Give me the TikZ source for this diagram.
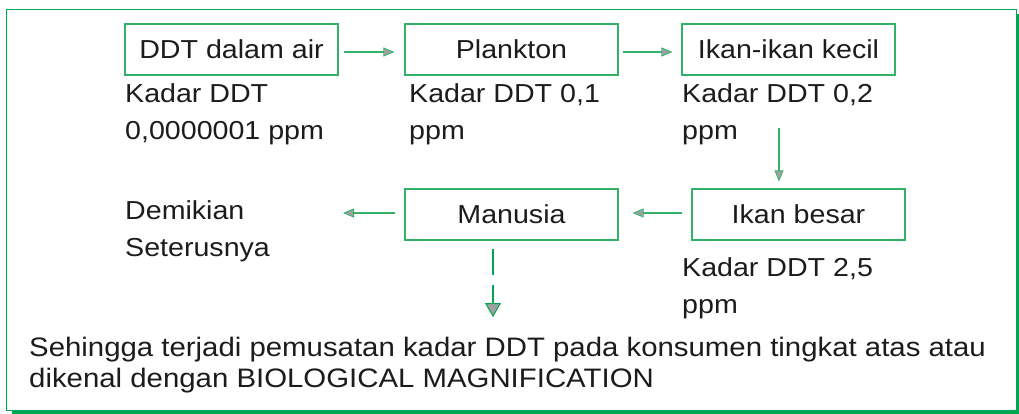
\documentclass[tikz,border=0pt]{standalone}
\usepackage{fontspec}
\setmainfont{Liberation Sans}[FakeStretch=1.1]
\usetikzlibrary{arrows.meta}
\definecolor{frameg}{RGB}{0,166,81}
\definecolor{boxg}{RGB}{50,178,105}
\definecolor{headg}{RGB}{160,160,160}
\definecolor{txt}{RGB}{30,27,28}
\begin{document}
\begin{tikzpicture}[x=1pt,y=-1pt,
  stepbox/.style={draw=boxg, line width=1.2pt, minimum width=213pt, minimum height=51pt,
    inner sep=0pt, font=\fontsize{26}{30}\selectfont, text=txt},
  lbl/.style={anchor=north west, inner sep=0pt, align=left,
    font=\fontsize{26}{37}\selectfont, text=txt},
  arr/.style={draw=boxg, line width=1.2pt,
    -{Triangle[length=11pt,width=9pt,fill=headg,line width=0.8pt]}},
  darr/.style={draw=frameg, line width=2.2pt, dash pattern=on 26pt off 10pt,
    -{Triangle[length=14pt,width=16pt,fill=headg,line width=1pt]}}]
\useasboundingbox (0,0) rectangle (1019,414);
% frame
\draw[frameg, line width=2.6pt] (1018,14) -- (1018,412.5) -- (12,412.5);
\draw[frameg, line width=0.9pt, fill=white] (6,9) rectangle (1016,410);
% boxes
\node[stepbox] (b1) at (231.5,49.5) {DDT dalam air};
\node[stepbox] (b2) at (511.5,49.5) {Plankton};
\node[stepbox] (b3) at (788.5,49.5) {Ikan-ikan kecil};
\node[stepbox] (b4) at (798.5,214.5) {Ikan besar};
\node[stepbox] (b5) at (511.5,214.5) {Manusia};
% labels
\node[lbl] (t1) at (125,76.1) {\strut Kadar DDT\\0,0000001 ppm};
\node[lbl] (t2) at (409,76.1) {\strut Kadar DDT 0,1\\ppm};
\node[lbl] (t3) at (682,76.1) {\strut Kadar DDT 0,2\\ppm};
\node[lbl] (t4) at (682,250.1) {\strut Kadar DDT 2,5\\ppm};
\node[lbl] (t5) at (125,193.6) {\strut Demikian\\Seterusnya};
\node[lbl, font=\fontsize{26.7}{31}\selectfont] (t6) at (29,334.3)
  {\strut Sehingga terjadi pemusatan kadar DDT pada konsumen tingkat atas atau\\dikenal dengan BIOLOGICAL MAGNIFICATION};
% connectors
\draw[arr, shorten <=5pt, shorten >=10pt] ([yshift=-2.5pt]b1.east) -- ([yshift=-2.5pt]b2.west);
\draw[arr, shorten <=4pt, shorten >=9pt] ([yshift=-2.5pt]b2.east) -- ([yshift=-2.5pt]b3.west);
\coordinate (v0) at (779,128);
\draw[arr, shorten >=7pt] (v0) -- (v0 |- b4.north);
\draw[arr, shorten <=9pt, shorten >=14pt] ([yshift=1.5pt]b4.west) -- ([yshift=1.5pt]b5.east);
\coordinate (d0) at (343,213);
\draw[arr, shorten <=9pt] ([yshift=1.5pt]b5.west) -- (d0);
\coordinate (d1) at (493,317);
\draw[darr, shorten <=8pt] (b5.south -| d1) -- (d1);
\end{tikzpicture}
\end{document}
